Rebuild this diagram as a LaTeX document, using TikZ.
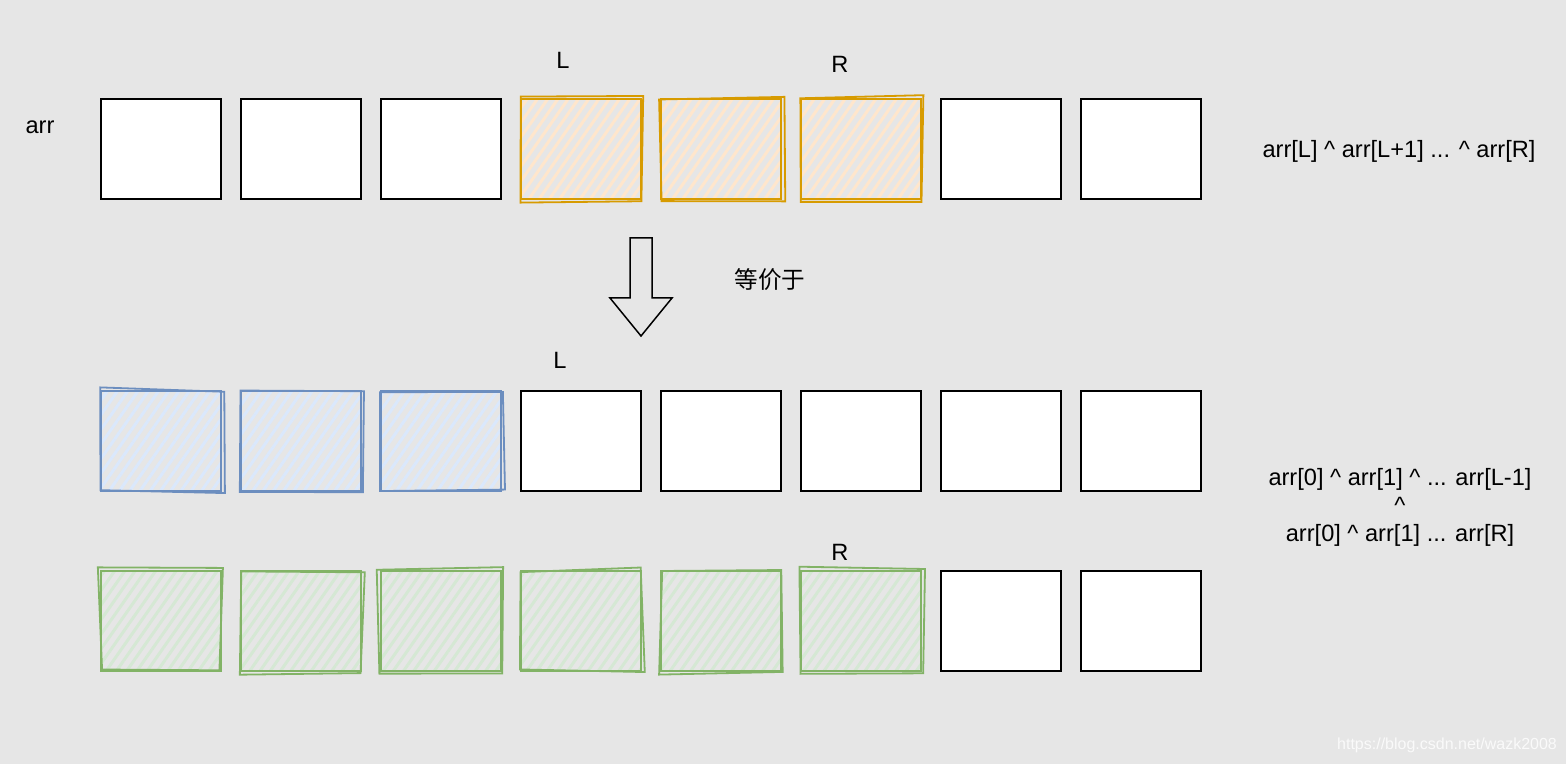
\documentclass[tikz,border=0pt]{standalone}
\usepackage{fontspec}
\setmainfont{Liberation Sans}
\newfontfamily\cjk{Noto Sans CJK SC}
\usetikzlibrary{calc, patterns.meta}
\definecolor{bggray}{HTML}{E6E6E6}
\definecolor{orangeline}{HTML}{D79B00}
\definecolor{orangefill}{HTML}{FFE6CC}
\definecolor{blueline}{HTML}{6C8EBF}
\definecolor{bluefill}{HTML}{DAE8FC}
\definecolor{greenline}{HTML}{82B366}
\definecolor{greenfill}{HTML}{D5E8D4}
\begin{document}
\begin{tikzpicture}[x=0.5pt, y=-0.5pt, font=\fontsize{11.8}{14}\selectfont,
  cell/.style={draw, line width=0.75pt, fill=white, minimum width=60pt, minimum height=50pt, inner sep=0pt},
  sketch/.style={draw=#1line, line width=1.3pt, minimum width=60pt, minimum height=50pt, inner sep=0pt,
    pattern={Lines[angle=55, distance=4.2pt, line width=1.5pt]}, pattern color=#1fill}]
\pgfmathsetseed{11}
\fill[bggray] (0,0) rectangle (1566,764);
\useasboundingbox (0,0) rectangle (1566,764);

% first row: arr with L..R marked
\node (arr) at (40,127) {arr};
\foreach \i in {0,1,2,6,7} \node[cell] (a\i) at (161+140*\i,149) {};
\foreach \i in {3,4,5} {
  \node[sketch=orange] (a\i) at (161+140*\i,149) {};
  \draw[orangeline, line width=0.9pt] ($(a\i.north west)+(rand*3,rand*3)$) -- ($(a\i.north east)+(rand*3,rand*3)$)
    -- ($(a\i.south east)+(rand*3,rand*3)$) -- ($(a\i.south west)+(rand*3,rand*3)$) -- cycle;
}
\node (topL) at (563,60) {L};
\node (topR) at (840,64) {R};
\node (topsum) at (1399,151) {arr[L] \textasciicircum{} arr[L+1] ... \textasciicircum{} arr[R]};

% block arrow
\draw[line width=0.75pt] (630,238) -- (652,238) -- (652,298) -- (672,298) -- (641,336) -- (610,298) -- (630,298) -- cycle;
\node (equiv) at (770,280) {\cjk 等价于};

% second row: prefix up to L-1
\foreach \i in {3,...,7} \node[cell] (b\i) at (161+140*\i,441) {};
\foreach \i in {0,1,2} {
  \node[sketch=blue] (b\i) at (161+140*\i,441) {};
  \draw[blueline, line width=0.9pt] ($(b\i.north west)+(rand*3,rand*3)$) -- ($(b\i.north east)+(rand*3,rand*3)$)
    -- ($(b\i.south east)+(rand*3,rand*3)$) -- ($(b\i.south west)+(rand*3,rand*3)$) -- cycle;
}
\node (midL) at (560,360) {L};

% third row: prefix up to R
\foreach \i in {6,7} \node[cell] (c\i) at (161+140*\i,621) {};
\foreach \i in {0,...,5} {
  \node[sketch=green] (c\i) at (161+140*\i,621) {};
  \draw[greenline, line width=0.9pt] ($(c\i.north west)+(rand*3,rand*3)$) -- ($(c\i.north east)+(rand*3,rand*3)$)
    -- ($(c\i.south east)+(rand*3,rand*3)$) -- ($(c\i.south west)+(rand*3,rand*3)$) -- cycle;
}
\node (botR) at (840,552) {R};

\node[align=center] (prefsum) at (1400,507) {arr[0] \textasciicircum{} arr[1] \textasciicircum{} ... arr[L-1]\\ \textasciicircum\\ arr[0] \textasciicircum{} arr[1] ... arr[R]};

\node[white, opacity=0.8, font=\fontsize{8}{10}\selectfont] (mark) at (1447,745) {https://blog.csdn.net/wazk2008};
\end{tikzpicture}
\end{document}
